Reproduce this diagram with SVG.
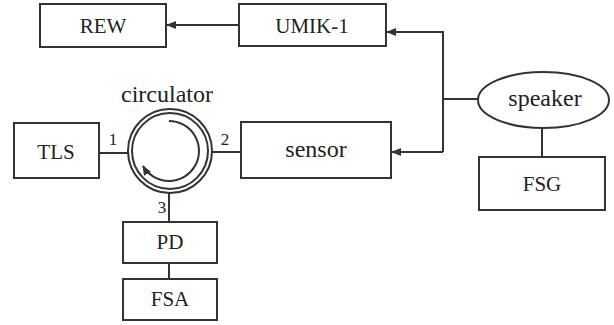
<svg xmlns="http://www.w3.org/2000/svg" width="614" height="325" viewBox="0 0 614 325">
<defs>
<marker id="ah" markerWidth="10" markerHeight="8" refX="9" refY="4" orient="auto" markerUnits="userSpaceOnUse">
<path d="M0,0 L10,4 L0,8 Z" fill="#333"/>
</marker>
<style>
.b{fill:#fff;stroke:#333;stroke-width:2}
.c{fill:none;stroke:#333;stroke-width:2}
.u{font-size:21px}
.l{font-size:24px}
.n{font-size:17px}
</style>
</defs>
<rect width="614" height="325" fill="#fff"/>
<g id="connectors">
<path class="c" d="M239,25 H167" marker-end="url(#ah)"/>
<path class="c" d="M478,99 H443"/>
<path class="c" d="M443,152 V32 H387" marker-end="url(#ah)"/>
<path class="c" d="M443,152 H392" marker-end="url(#ah)"/>
<path class="c" d="M542,128 V157"/>
<path class="c" d="M99,153 H128"/>
<path class="c" d="M211,152 H241"/>
<path class="c" d="M169,192 V222"/>
<path class="c" d="M169,263 V279"/>
</g>
<g font-family="Liberation Serif, DejaVu Serif, serif" fill="#222" text-anchor="middle">
<g id="REW"><rect class="b" x="40" y="4" width="126" height="43"/><text class="u" x="103" y="33">REW</text></g>
<g id="UMIK-1"><rect class="b" x="239" y="4" width="147" height="42"/><text class="u" x="312" y="33">UMIK-1</text></g>
<g id="TLS"><rect class="b" x="14" y="123" width="85" height="55"/><text class="u" x="56" y="159">TLS</text></g>
<g id="circulator">
<circle class="b" cx="170" cy="151" r="42"/>
<circle class="b" cx="170" cy="151" r="38"/>
<path class="c" d="M169,121 A30,30 0 1 1 143,166" marker-end="url(#ah)"/>
<text class="l" x="167" y="102">circulator</text>
<text class="n" x="113" y="145">1</text>
<text class="n" x="225" y="145">2</text>
<text class="n" x="162" y="213">3</text>
</g>
<g id="sensor"><rect class="b" x="241" y="122" width="150" height="56"/><text class="l" x="316" y="157">sensor</text></g>
<g id="speaker"><ellipse class="b" cx="543.5" cy="100" rx="65.5" ry="28"/><text class="l" x="545" y="106">speaker</text></g>
<g id="FSG"><rect class="b" x="479" y="157" width="126" height="53"/><text class="u" x="542" y="191">FSG</text></g>
<g id="PD"><rect class="b" x="123" y="222" width="94" height="41"/><text class="u" x="170" y="249">PD</text></g>
<g id="FSA"><rect class="b" x="123" y="279" width="94" height="41"/><text class="u" x="170" y="306">FSA</text></g>
</g>
</svg>
